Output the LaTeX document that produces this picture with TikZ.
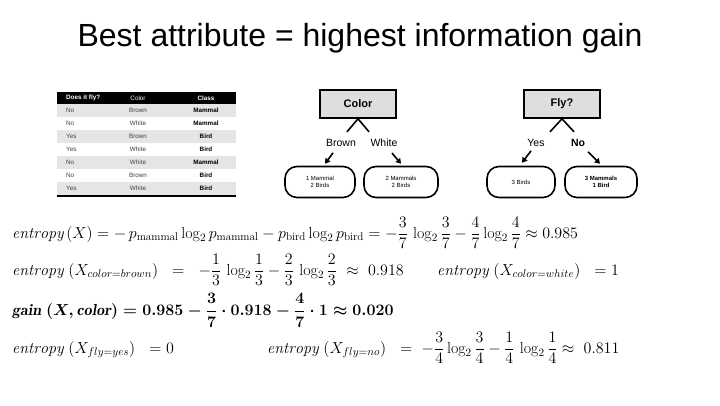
\RequirePackage{fix-cm}
\documentclass[tikz,border=0pt]{standalone}
\usepackage{amsmath,amssymb}
\usepackage{fontspec}
\newfontfamily\arial{Liberation Sans}
\usetikzlibrary{arrows.meta,positioning,calc}

\begin{document}
\begin{tikzpicture}[x=1pt, y=-1pt,
    attr/.style={draw, line width=1.6pt, fill=black!13, minimum width=76pt, minimum height=28pt, font=\arial\bfseries\fontsize{11}{12}\selectfont},
    leaf/.style={draw, line width=1.6pt, rounded corners=12pt, minimum height=31pt, align=center, font=\arial\fontsize{6}{7.5}\selectfont},
    blabel/.style={font=\arial\fontsize{10.5}{11}\selectfont, inner sep=1pt},
    stem/.style={line width=1.6pt},
    arr/.style={line width=1.6pt, -{Triangle[width=6pt,length=5pt]}},
    cell/.style={font=\arial\fontsize{6.3}{7}\selectfont, text=black!75, inner sep=0pt},
    eq/.style={anchor=base west, inner sep=0pt, font=\fontsize{16}{18}\selectfont}
  ]
    \useasboundingbox[fill=white] (0,0) rectangle (720,405);

    \node[font=\arial\fontsize{32}{36}\selectfont] (title) at (360,38) {Best attribute = highest information gain};

    % data table
    \fill (57,92) rectangle (236,104);
    \node[cell, anchor=west, text=white, font=\arial\bfseries\fontsize{6.3}{7}\selectfont] (h1) at (66,98) {Does it fly?};
    \node[cell, text=white] (h2) at (138,98) {Color};
    \node[cell, text=white, font=\arial\bfseries\fontsize{6.3}{7}\selectfont] (h3) at (206,98) {Class};
    \foreach \r/\fl/\co/\cl/\bg in {1/No/Brown/Mammal/black!10, 2/No/White/Mammal/white, 3/Yes/Brown/Bird/black!10,
        4/Yes/White/Bird/white, 5/No/White/Mammal/black!10, 6/No/Brown/Bird/white, 7/Yes/White/Bird/black!10} {
      \fill[\bg] (57,{104+13*(\r-1)}) rectangle (236,{104+13*\r});
      \node[cell, anchor=west] (f\r) at (66,{110.5+13*(\r-1)}) {\fl};
      \node[cell] (c\r) at (138,{110.5+13*(\r-1)}) {\co};
      \node[cell, text=black, font=\arial\bfseries\fontsize{6.3}{7}\selectfont] (k\r) at (206,{110.5+13*(\r-1)}) {\cl};
    }
    \fill (57,195) rectangle (236,197);

    % split on color
    \node[attr] (color) at (358,104) {Color};
    \node[blabel] (lbrown) at (341,143) {Brown};
    \node[blabel] (lwhite) at (384,143) {White};
    \node[leaf, minimum width=70pt] (lcb) at (320,182) {1 Mammal\\2 Birds};
    \node[leaf, minimum width=74pt] (lcw) at (401,182) {2 Mammals\\2 Birds};
    \draw[stem] (color.south) -- ++(-11,13);
    \draw[stem] (color.south) -- ++(11,13);
    \draw[arr] ($(lbrown.south)+(-8,5)$) -- ($(lcb.north)+(5,-2)$);
    \draw[arr] ($(lwhite.south)+(8,5)$) -- ($(lcw.north)+(0,-2)$);

    % split on fly
    \node[attr] (fly) at (562,104) {Fly?};
    \node[blabel] (lyes) at (536,143) {Yes};
    \node[blabel, font=\arial\bfseries\fontsize{10.5}{11}\selectfont] (lno) at (578,143) {No};
    \node[leaf, minimum width=68pt] (lfy) at (521,182) {3 Birds};
    \node[leaf, minimum width=72pt, font=\arial\bfseries\fontsize{6}{7.5}\selectfont] (lfn) at (601,182) {3 Mammals\\1 Bird};
    \draw[stem] (fly.south) -- ++(-12,13);
    \draw[stem] (fly.south) -- ++(12,13);
    \draw[arr] ($(lyes.south)+(-5,3)$) -- ($(lfy.north)+(1,-3)$);
    \draw[arr] ($(lno.south)+(10,4)$) -- ($(lfn.north)+(-1,-2)$);

    % formulas
    \node[eq] (e1) at (12,238) {$\mathit{entropy}\,(X) = -\,p_{\mathrm{mammal}}\log_2 p_{\mathrm{mammal}} - p_{\mathrm{bird}}\log_2 p_{\mathrm{bird}} = -\dfrac{3}{7}\,\log_2\dfrac{3}{7} - \dfrac{4}{7}\log_2\dfrac{4}{7} \approx 0.985$};
    \node[eq] (e2) at (12,275) {$\mathit{entropy}\ (X_{color=brown})\ \ =\ \ -\dfrac{1}{3}\,\log_2\dfrac{1}{3} - \dfrac{2}{3}\,\log_2\dfrac{2}{3}\ \approx\ 0.918$};
    \node[eq] (e3) at (437,275) {$\mathit{entropy}\ (X_{color=white})\ \ = 1$};
    \node[eq, font=\fontsize{16}{18}\selectfont\boldmath] (e4) at (12,315) {$\mathit{gain}\ (X, \mathit{color}) = 0.985 - \dfrac{3}{7}\cdot 0.918 - \dfrac{4}{7}\cdot 1 \approx 0.020$};
    \node[eq] (e5) at (12,353) {$\mathit{entropy}\ (X_{fly=yes})\ \ = 0$};
    \node[eq] (e6) at (267,353) {$\mathit{entropy}\ (X_{fly=no})\ \ =\ -\dfrac{3}{4}\log_2\dfrac{3}{4} - \dfrac{1}{4}\,\log_2\dfrac{1}{4}\approx\ 0.811$};
  \end{tikzpicture}
\end{document}
